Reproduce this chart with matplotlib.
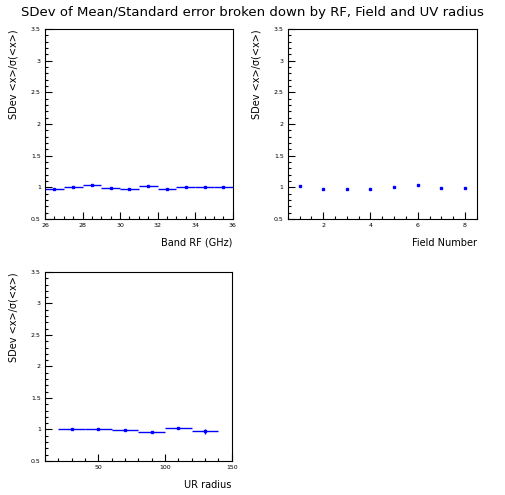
import matplotlib
matplotlib.use('Agg')
import matplotlib.pyplot as plt
from matplotlib.ticker import MultipleLocator

# Band RF (GHz): bins of 1 GHz
rf_lo = [26, 27, 28, 29, 30, 31, 32, 33, 34, 35]
rf_hi = [27, 28, 29, 30, 31, 32, 33, 34, 35, 36]
rf_val = [0.98, 1.00, 1.03, 0.99, 0.98, 1.02, 0.98, 1.00, 1.00, 1.01]
rf_err = [0.01, 0.015, 0.01, 0.01, 0.01, 0.015, 0.01, 0.01, 0.01, 0.01]

# Field number
field_num = [1, 2, 3, 4, 5, 6, 7, 8]
field_val = [1.02, 0.97, 0.97, 0.97, 1.01, 1.04, 0.985, 0.995]

# UV radius bins
uv_lo = [20, 40, 60, 80, 100, 120]
uv_hi = [40, 60, 80, 100, 120, 140]
uv_val = [1.00, 1.00, 0.99, 0.965, 1.02, 0.975]
uv_err = [0.01, 0.015, 0.01, 0.01, 0.015, 0.04]

ylab = 'SDev <x>/\u03c3(<x>)'
col = '#0000ff'

fig = plt.figure(figsize=(5.05, 4.95), dpi=100)
fig.text(0.50, 0.975, 'SDev of Mean/Standard error broken down by RF, Field and UV radius',
         ha='center', va='center', fontsize=9.5)


def style(ax, xlim, xmaj, xmin, xlabel):
    ax.set_xlim(*xlim)
    ax.set_ylim(0.5, 3.5)
    ax.xaxis.set_major_locator(MultipleLocator(xmaj))
    ax.xaxis.set_minor_locator(MultipleLocator(xmin))
    ax.yaxis.set_major_locator(MultipleLocator(0.5))
    ax.yaxis.set_minor_locator(MultipleLocator(0.1))
    ax.yaxis.set_major_formatter(plt.FuncFormatter(lambda v, p: f'{v:g}'))
    ax.tick_params(which='both', direction='in', labelsize=4.5, width=0.8,
                   top=False, right=False, pad=3)
    ax.tick_params(which='major', length=5)
    ax.tick_params(which='minor', length=2.5)
    for s in ax.spines.values():
        s.set_linewidth(0.8)
    ax.set_xlabel(xlabel, fontsize=7, loc='right', labelpad=7)
    ax.set_ylabel(ylab, fontsize=7, loc='top', labelpad=9)


def bin_plot(ax, lo, hi, val, err):
    mids = [(a + b) / 2 for a, b in zip(lo, hi)]
    ax.hlines(val, lo, hi, color=col, lw=1)
    ax.errorbar(mids, val, yerr=err, fmt='s', ms=2, color=col, elinewidth=1, capsize=0)


ax1 = fig.add_axes([0.089, 0.5576, 0.372, 0.384])
bin_plot(ax1, rf_lo, rf_hi, rf_val, rf_err)
style(ax1, (26, 36), 2, 0.5, 'Band RF (GHz)')

ax2 = fig.add_axes([0.570, 0.5576, 0.374, 0.384])
ax2.plot(field_num, field_val, 's', ms=2, color=col)
style(ax2, (0.5, 8.5), 2, 0.5, 'Field Number')

ax3 = fig.add_axes([0.089, 0.0687, 0.370, 0.382])
bin_plot(ax3, uv_lo, uv_hi, uv_val, uv_err)
style(ax3, (10, 150), 50, 10, 'UR radius')

fig.savefig('out.png', dpi=100)
